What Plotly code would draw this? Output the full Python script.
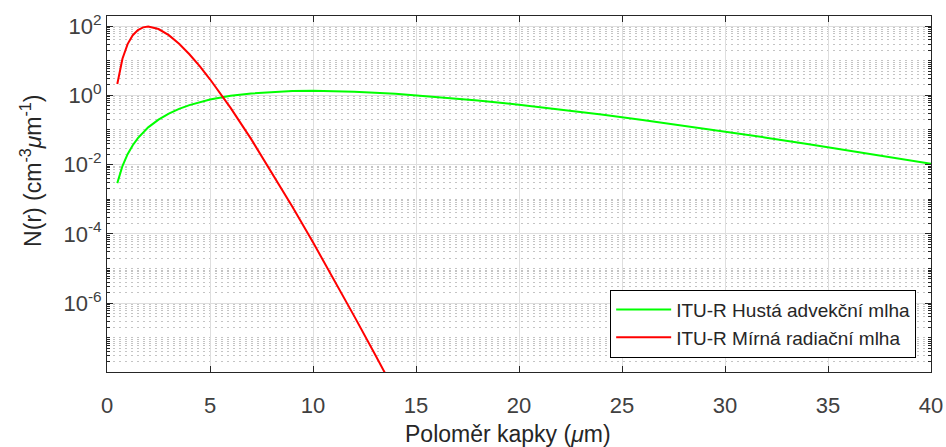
import plotly.graph_objects as go

# Droplet radius samples (um) and size distributions N(r) (cm^-3 um^-1)
r_advection = [0.5, 0.75, 1, 1.25, 1.5, 2, 2.5, 3, 3.5, 4, 5, 6, 7, 8, 9, 10,
               12, 14, 16, 18, 20, 22, 24, 26, 28, 30, 32, 34, 36, 38, 40]
n_advection = [2.91e-3, 9.1e-3, 0.0200, 0.0362, 0.0581, 0.1186, 0.199, 0.296,
               0.405, 0.520, 0.753, 0.964, 1.134, 1.254, 1.323, 1.344,
               1.275, 1.111, 0.910, 0.711, 0.535, 0.391, 0.279, 0.194,
               0.133, 0.0900, 0.0599, 0.0394, 0.0257, 0.0166, 0.0106]

r_radiation = [0.5, 0.75, 1, 1.25, 1.5, 1.75, 2, 2.5, 3, 3.5, 4, 4.5, 5, 6,
               7, 8, 9, 10, 11, 12, 13, 14]
n_radiation = [2.12, 11.4, 30.2, 54.5, 76.9, 91.6, 96.4, 82.0, 54.7, 30.8,
               15.3, 6.92, 2.90, 0.432, 0.0542, 6.01e-3, 6.07e-4, 5.69e-5,
               5.01e-6, 4.20e-7, 3.38e-8, 2.63e-9]

series_names = ["ITU-R Hustá advekční mlha", "ITU-R Mírná radiační mlha"]

x_ticks = [0, 5, 10, 15, 20, 25, 30, 35, 40]
y_tickvals = [1e-6, 1e-4, 1e-2, 1, 1e2]
y_ticktext = ["10<sup>-6</sup>", "10<sup>-4</sup>", "10<sup>-2</sup>",
              "10<sup>0</sup>", "10<sup>2</sup>"]

x_title = "Poloměr kapky (<i>μ</i>m)"
y_title = "N(r) (cm<sup>-3</sup><i>μ</i>m<sup>-1</sup>)"

FONT = "Liberation Sans, Arial, sans-serif"
AXIS_COLOR = "#262626"
GRID = "#dedede"

fig = go.Figure()
fig.add_trace(go.Scatter(x=r_advection, y=n_advection, mode="lines",
                         name=series_names[0],
                         line=dict(color="#00ff00", width=2)))
fig.add_trace(go.Scatter(x=r_radiation, y=n_radiation, mode="lines",
                         name=series_names[1],
                         line=dict(color="#ff0000", width=2)))

fig.update_layout(
    width=946, height=447,
    margin=dict(l=107, r=15, t=16, b=75, autoexpand=False),
    paper_bgcolor="white", plot_bgcolor="white",
    font=dict(family=FONT, color=AXIS_COLOR, size=21),
    showlegend=True,
    legend=dict(x=0.982, y=0.04, xanchor="right", yanchor="bottom",
                bgcolor="white", bordercolor="#000000", borderwidth=1,
                font=dict(size=19, color="#262626"),
                itemwidth=55, tracegroupgap=0),
    annotations=[
        dict(text=x_title, xref="paper", yref="paper", x=0.4867, y=-0.174,
             xanchor="center", yanchor="middle", showarrow=False,
             font=dict(size=23, color="#262626")),
        dict(text=y_title, xref="paper", yref="paper", x=-0.0922, y=0.565,
             xanchor="center", yanchor="middle", textangle=-90,
             showarrow=False, font=dict(size=23, color="#262626")),
    ],
)

fig.update_xaxes(
    range=[0, 40], tickvals=x_ticks, automargin=False,
    showline=True, linecolor=AXIS_COLOR, linewidth=1, mirror="ticks",
    ticks="inside", ticklen=6, tickcolor=AXIS_COLOR,
    showgrid=True, gridcolor=GRID, gridwidth=1,
    zeroline=False, ticklabelstandoff=14,
    tickfont=dict(size=22, color="#404040"),
)

fig.update_yaxes(
    type="log", range=[-7.99, 2.29], automargin=False,
    tickvals=y_tickvals, ticktext=y_ticktext,
    showline=True, linecolor=AXIS_COLOR, linewidth=1, mirror="ticks",
    ticks="inside", ticklen=6, tickcolor=AXIS_COLOR,
    showgrid=True, gridcolor=GRID, gridwidth=1,
    zeroline=False,
    tickfont=dict(size=22, color="#404040"),
    minor=dict(dtick="D1", ticks="inside", ticklen=3, tickcolor=AXIS_COLOR,
               showgrid=True, gridcolor="#c4c4c4", griddash="2px,4px",
               gridwidth=1),
)

fig.write_html("out.html")
